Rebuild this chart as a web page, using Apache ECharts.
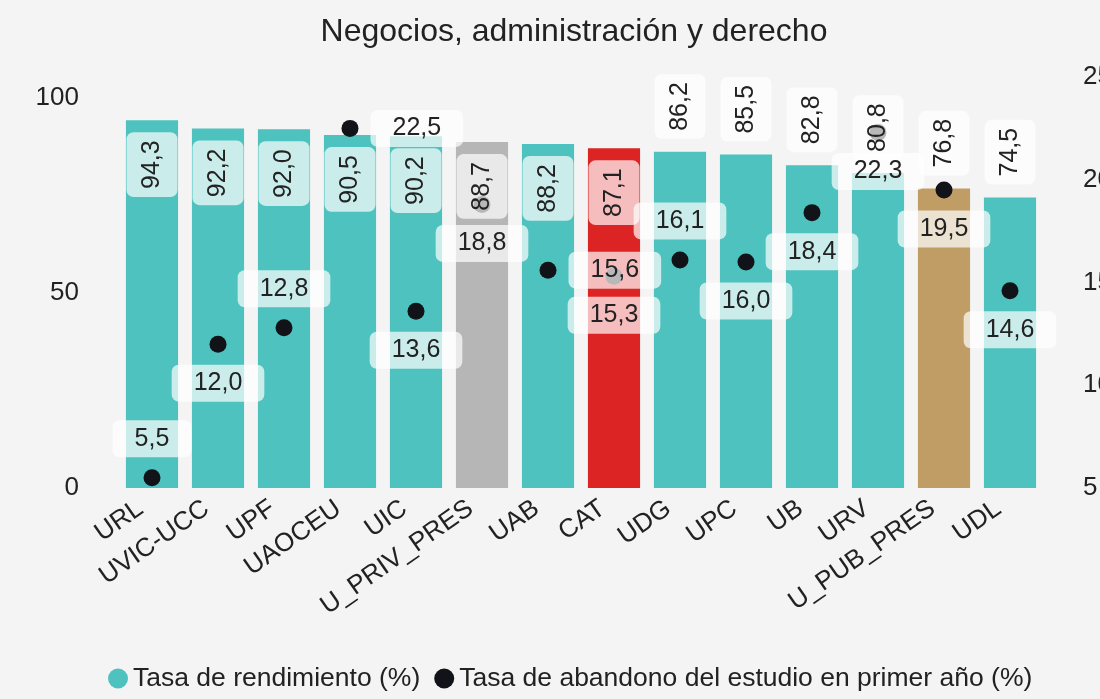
<!DOCTYPE html>
<html>
<head>
<meta charset="utf-8">
<script src="https://cdn.jsdelivr.net/npm/echarts@6/dist/echarts.min.js"></script>
<style>
  html, body { margin: 0; padding: 0; background: #f4f4f4; overflow: hidden; }
  #main { width: 1148px; height: 699px; }
</style>
</head>
<body>
<div id="main"></div>
<script>
var universidades = ['URL', 'UVIC-UCC', 'UPF', 'UAOCEU', 'UIC', 'U_PRIV_PRES', 'UAB', 'CAT', 'UDG', 'UPC', 'UB', 'URV', 'U_PUB_PRES', 'UDL'];
var rendimiento = [94.3, 92.2, 92.0, 90.5, 90.2, 88.7, 88.2, 87.1, 86.2, 85.5, 82.8, 80.8, 76.8, 74.5];
var abandono = [5.5, 12.0, 12.8, 22.5, 13.6, 18.8, 15.6, 15.3, 16.1, 16.0, 18.4, 22.3, 19.5, 14.6];

// colores especiales de barra
var colorBarra = { 'U_PRIV_PRES': '#b6b6b6', 'CAT': '#dd2424', 'U_PUB_PRES': '#bf9d65' };
// donde va cada etiqueta
var posBarra = ['in', 'in', 'in', 'in', 'in', 'in', 'in', 'in', 'out', 'out', 'out', 'out', 'out', 'out'];
var posPunto = ['top', 'bottom', 'top', 'right', 'bottom', 'bottom', 'right', 'bottom', 'top', 'bottom', 'bottom', 'bottom', 'bottom', 'bottom'];

var fuente = '"Liberation Sans", Arial, sans-serif';
function coma(v) { return v.toFixed(1).replace('.', ','); }

var myChart = echarts.init(document.getElementById('main'));

var barData = rendimiento.map(function (v, i) {
    var item = { value: v };
    if (colorBarra[universidades[i]]) item.itemStyle = { color: colorBarra[universidades[i]] };
    return item;
});

// etiquetas de las barras en una serie aparte, encima de los puntos
var etiquetaData = rendimiento.map(function (v, i) {
    var fuera = posBarra[i] === 'out';
    return {
        value: v,
        label: {
            position: fuera ? 'top' : 'insideTop',
            align: fuera ? 'left' : 'right',
            verticalAlign: 'middle',
            distance: fuera ? 13 : 12
        }
    };
});

var puntoData = abandono.map(function (v, i) {
    var p = posPunto[i];
    return {
        value: v,
        label: {
            position: p,
            align: p === 'right' ? 'left' : 'center',
            verticalAlign: p === 'top' ? 'bottom' : (p === 'bottom' ? 'top' : 'middle')
        }
    };
});

var option = {
    backgroundColor: '#f4f4f4',
    textStyle: { fontFamily: fuente },
    title: {
        text: 'Negocios, administración y derecho',
        left: 'center',
        top: 11,
        textStyle: { fontFamily: fuente, fontSize: 32, fontWeight: 'normal', color: '#222' }
    },
    legend: {
        left: 103,
        top: 660,
        icon: 'circle',
        itemWidth: 20,
        itemHeight: 20,
        itemGap: 14,
        textStyle: { fontFamily: fuente, fontSize: 26.5, color: '#222' },
        data: ['Tasa de rendimiento (%)', 'Tasa de abandono del estudio en primer año (%)']
    },
    grid: { left: 119, right: 105, top: 77, bottom: 211 },
    xAxis: {
        type: 'category',
        data: universidades,
        axisLine: { show: false },
        axisTick: { show: false },
        axisLabel: { rotate: 35, fontSize: 26, color: '#222', margin: 10, padding: [0, 14, 0, 0], interval: 0, fontFamily: fuente }
    },
    yAxis: [
        {
            type: 'value',
            min: 0,
            max: 105.4,
            interval: 50,
            splitLine: { show: false },
            axisLabel: { fontSize: 26, color: '#222', margin: 40, showMaxLabel: false, fontFamily: fuente }
        },
        {
            type: 'value',
            min: 5,
            max: 25,
            interval: 5,
            splitLine: { show: false },
            axisLabel: { fontSize: 26, color: '#222', margin: 40, fontFamily: fuente }
        }
    ],
    series: [
        {
            name: 'Tasa de rendimiento (%)',
            type: 'bar',
            yAxisIndex: 0,
            barCategoryGap: '21%',
            itemStyle: { color: '#4dc2be' },
            data: barData
        },
        {
            name: 'Tasa de abandono del estudio en primer año (%)',
            type: 'scatter',
            yAxisIndex: 1,
            symbolSize: 17,
            itemStyle: { color: '#111318', opacity: 1 },
            label: {
                show: true,
                distance: 12,
                fontSize: 25,
                color: '#222',
                fontFamily: fuente,
                backgroundColor: 'rgba(255,255,255,0.7)',
                borderRadius: 7,
                padding: [6, 22],
                formatter: function (p) { return coma(p.value); }
            },
            data: puntoData
        },
        {
            name: 'etiquetas',
            type: 'bar',
            yAxisIndex: 0,
            z: 3,
            silent: true,
            barGap: '-100%',
            barCategoryGap: '21%',
            itemStyle: { color: 'rgba(0,0,0,0)' },
            label: {
                show: true,
                rotate: 90,
                fontSize: 25,
                color: '#222',
                fontFamily: fuente,
                backgroundColor: 'rgba(255,255,255,0.7)',
                borderRadius: 7,
                padding: [13, 8],
                formatter: function (p) { return coma(p.value); }
            },
            data: etiquetaData
        }
    ]
};

myChart.setOption(option);
</script>
</body>
</html>
